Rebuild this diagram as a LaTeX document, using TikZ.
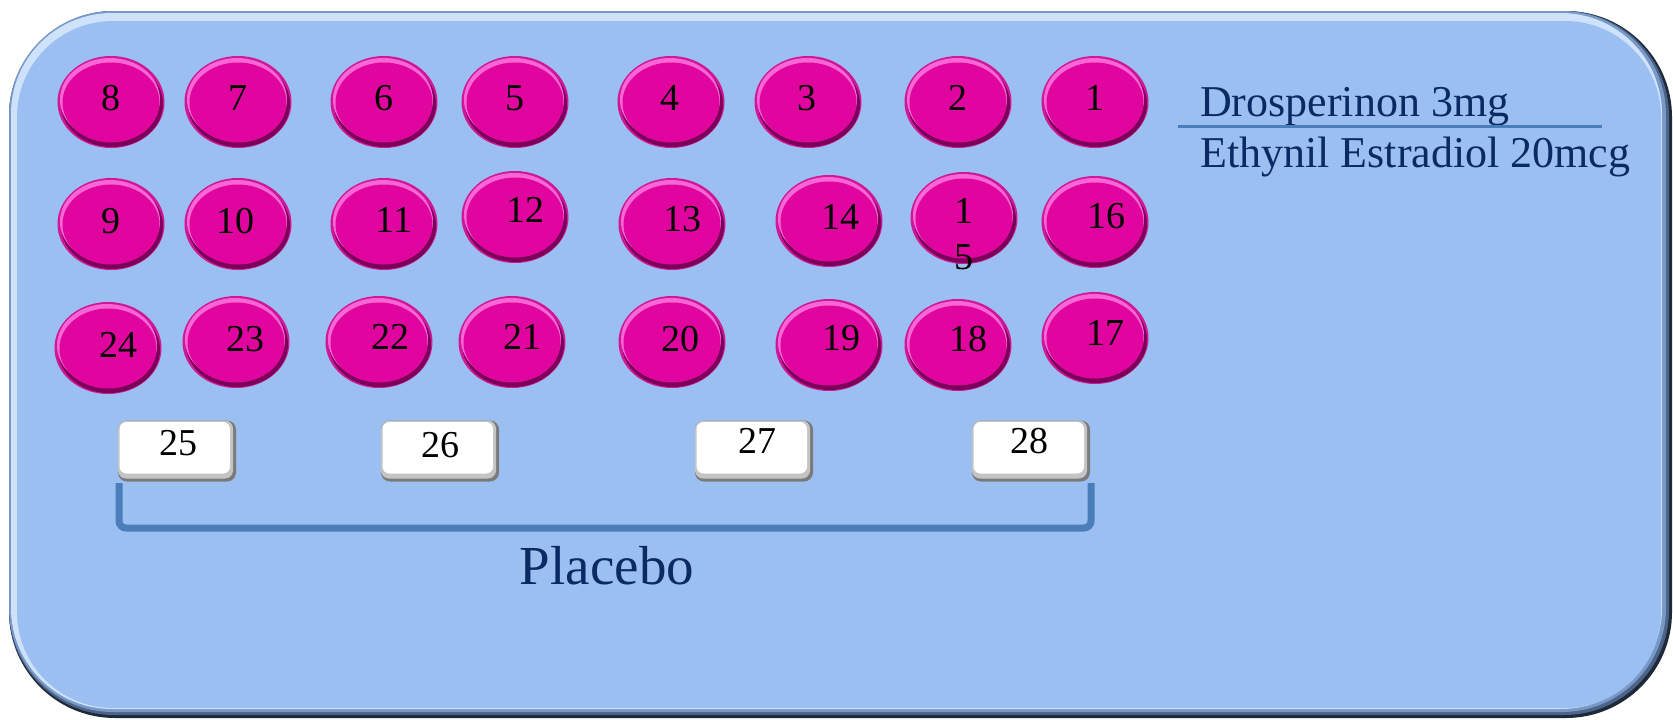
\documentclass[tikz,border=0pt]{standalone}
\usepackage{fontspec}
\setmainfont{Liberation Serif}
\usetikzlibrary{shapes.geometric}
\definecolor{framedark}{HTML}{1E2A3A}
\definecolor{framemid}{HTML}{4C6488}
\definecolor{framemidb}{HTML}{7898C8}
\definecolor{framelight}{HTML}{CFE2FB}
\definecolor{panel}{HTML}{9BBFF0}
\definecolor{pilledge}{HTML}{D0169A}
\definecolor{pilldark}{HTML}{7A0058}
\definecolor{pilllight}{HTML}{F866D6}
\definecolor{pillmain}{HTML}{E1059F}
\definecolor{boxshadow}{HTML}{7A7A7A}
\definecolor{boxgray}{HTML}{C4C4C4}
\definecolor{bracketblue}{HTML}{4A7EBB}
\definecolor{navy}{HTML}{0B2A63}
\tikzset{
  pill/.style={ellipse, minimum width=107, minimum height=92, inner sep=0pt, fill=pilledge,
    path picture={
      \fill[pilldark] ([xshift=1pt,yshift=-2pt]path picture bounding box.center) ellipse [x radius=51pt, y radius=43pt];
      \fill[pilllight] ([xshift=-1pt,yshift=2.5pt]path picture bounding box.center) ellipse [x radius=50pt, y radius=41.5pt];
      \fill[pillmain] ([xshift=0pt,yshift=-0.5pt]path picture bounding box.center) ellipse [x radius=48.5pt, y radius=40pt];
    }},
  num/.style={inner sep=0pt, font=\fontsize{38}{40}\selectfont, text=black},
  pbox/.style={rectangle, rounded corners=9pt, minimum width=118, minimum height=61, inner sep=0pt, fill=boxshadow,
    path picture={
      \fill[boxgray, rounded corners=8pt] (path picture bounding box.north west) rectangle ([xshift=-3pt,yshift=3pt]path picture bounding box.south east);
      \fill[white, rounded corners=7pt] ([xshift=1.5pt,yshift=-1.5pt]path picture bounding box.north west) rectangle ([xshift=-6pt,yshift=8pt]path picture bounding box.south east);
    }},
  sidetext/.style={inner sep=0pt, anchor=base west, text=navy, font=\fontsize{44}{48}\selectfont},
  bracketline/.style={draw=bracketblue, line width=7pt, rounded corners=7pt},
}
\begin{document}
\begin{tikzpicture}[x=1pt,y=-1pt]
\useasboundingbox (0,0) rectangle (1673,720);
% tray
\fill[framedark, rounded corners=106pt] (9,11) rectangle (1672,718);
\fill[framemid, rounded corners=105pt] (9,11) rectangle (1669,715);
\fill[framemidb, rounded corners=104pt] (9,11) rectangle (1666,712);
\fill[framelight, rounded corners=101pt] (11,13) rectangle (1662,709);
\fill[panel, rounded corners=96pt] (17,21) rectangle (1661,708);
% pills
\foreach \n/\x/\y in {1/1095/102, 2/958/102, 3/808/102, 4/671/102, 5/515/102, 6/384/102, 7/238/102, 8/111/102,
  9/111/224, 10/238/224, 11/384/224, 12/515/217, 13/672/224, 14/829/221, 15/964/218, 16/1095/222,
  17/1095/338, 18/958/345, 19/829/345, 20/672/342, 21/512/342, 22/379/342, 23/236/342, 24/108/348}
  \node[pill] (p\n) at (\x,\y) {};
% pill labels
\foreach \n/\x/\y in {1/1095/98, 2/958/98, 3/807/98, 4/670/98, 5/515/98, 6/384/98, 7/238/98, 8/111/98,
  9/111/221, 10/235/221, 11/394/220, 12/525/210, 13/682/219, 14/840/217, 16/1106/216,
  17/1105/333, 18/968/339, 19/841/338, 20/680/339, 21/522/337, 22/390/337, 23/245/339, 24/118/345}
  \node[num] (l\n) at (\x,\y) {\n};
\node[num] (l15a) at (964,211) {1};
\node[num] (l15b) at (964,257) {5};
% placebo boxes
\foreach \n/\x/\y in {25/177/451, 26/440/451, 27/754/451, 28/1031/451}
  \node[pbox] (b\n) at (\x,\y) {};
\foreach \n/\x/\y in {25/178/443, 26/440/445, 27/757/441, 28/1029/441}
  \node[num] (l\n) at (\x,\y) {\n};
% bracket
\coordinate (k1) at (119,483);
\coordinate (k2) at (119,528);
\coordinate (k3) at (1091,528);
\coordinate (k4) at (1091,483);
\draw[bracketline] (k1) -- (k2) -- (k3) -- (k4);
\node[inner sep=0pt, anchor=base, text=navy, font=\fontsize{55}{58}\selectfont] (placebo) at (607,584) {Placebo};
% side text
\node[sidetext] (dros) at (1200,116) {Drosperinon 3mg};
\node[sidetext] (ethy) at (1200,167) {Ethynil Estradiol 20mcg};
\coordinate (s1) at (1178,126);
\coordinate (s2) at (1602,126);
\draw[draw=bracketblue, line width=3pt] (s1) -- (s2);
\end{tikzpicture}
\end{document}
